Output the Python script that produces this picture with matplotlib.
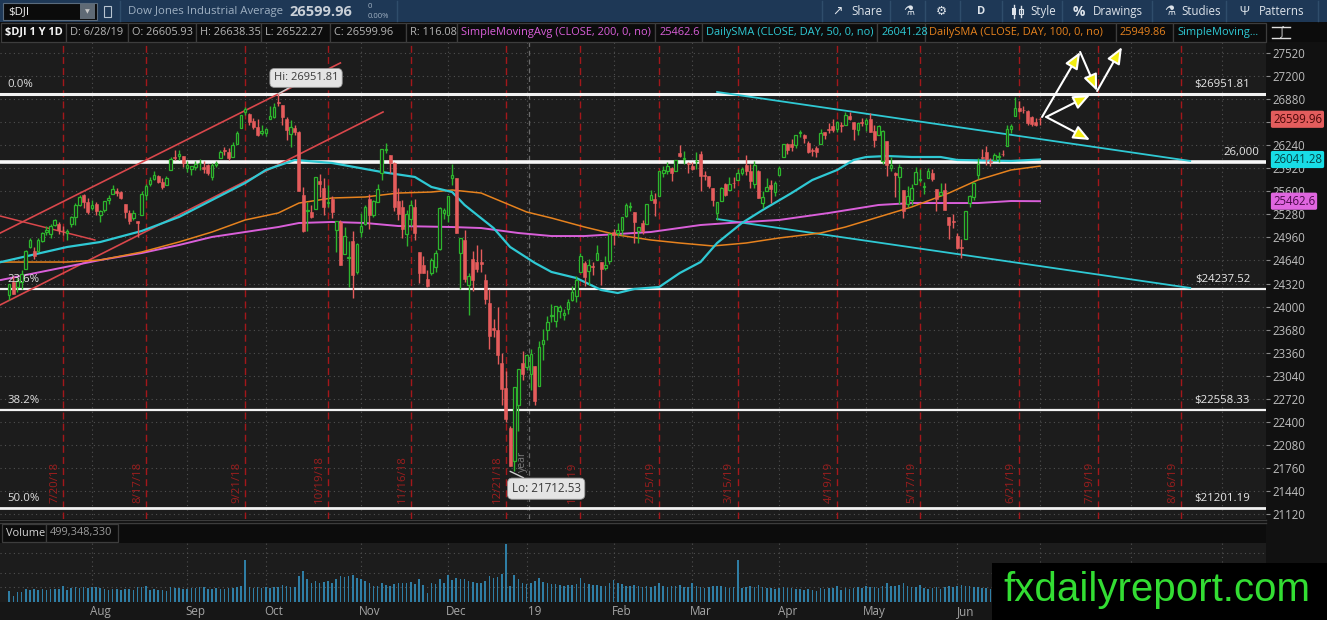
import numpy as np
import matplotlib
matplotlib.use("Agg")
import matplotlib.pyplot as plt
from matplotlib.patches import Rectangle
from matplotlib.lines import Line2D
import matplotlib.transforms as mtransforms

plt.rcParams['font.family'] = ['Open Sans', 'DejaVu Sans']

# ------------------------------------------------------------------ data
# daily candles, $DJI, 2018-07-02 .. 2019-06-28 (one row per month)
opens = [
    24161, 24343, 24273, 24347, 24527, 24829, 24766, 24772, 24915, 25034, 25006, 25131, 25152, 25063, 25025, 25144, 25240, 25412, 25546, 25453, 25363,
    25424, 25277, 25345, 25477, 25563, 25611, 25593, 25421, 25304, 25227, 25185, 25269, 25544, 25702, 25774, 25806, 25735, 25692, 25889, 26081, 26088, 26086, 25919,
    25916, 25935, 25988, 25935, 25969, 25798, 25970, 26066, 26179, 26140, 26075, 26259, 26472, 26702, 26679, 26579, 26490, 26408, 26405,
    26598, 26635, 26833, 26795, 26607, 26402, 26478, 26417, 25547, 25321, 25313, 25352, 25743, 25641, 25441, 25497, 25068, 25178, 24730, 24676, 24913, 24485, 25035,
    25152, 25491, 25268, 25450, 25851, 26176, 26104, 25988, 25461, 25388, 25003, 25210, 25383, 24753, 24577, 24383, 24461, 24556, 24805, 25297, 25270,
    25780, 25778, 24737, 24918, 24305, 24654, 24621, 24616, 24367, 24045, 23700, 23675, 23216, 22871, 22318, 21858, 22629, 23213, 23154,
    23058, 23177, 22894, 23474, 23680, 23867, 23796, 23940, 23886, 23961, 24091, 24141, 24480, 24598, 24493, 24561, 24653, 24613, 24529, 24627, 25030,
    25025, 25062, 25252, 25380, 25310, 25050, 25163, 25151, 25483, 25498, 25535, 25851, 25880, 25928, 25886, 26126, 26054, 25994, 25958,
    26019, 26123, 25825, 25811, 25645, 25297, 25471, 25707, 25620, 25714, 25751, 25852, 25961, 25876, 25705, 25882, 25443, 25608, 25682, 25592, 25823,
    26075, 26250, 26260, 26238, 26416, 26387, 26277, 26169, 26205, 26255, 26422, 26466, 26508, 26460, 26523, 26527, 26647, 26557, 26446, 26557, 26535,
    26609, 26432, 26386, 26022, 26295, 25920, 25853, 25804, 25612, 25430, 25481, 25703, 25762, 25653, 25779, 25849, 25630, 25554, 25616, 25237, 25188, 24985,
    24823, 24942, 25437, 25520, 25821, 26082, 26150, 26014, 26037, 26075, 26117, 26225, 26468, 26640, 26760, 26729, 26711, 26626, 26561, 26605.93,
]
highs = [
    24307, 24421, 24400, 24509, 24784, 24958, 24830, 24945, 25031, 25117, 25143, 25215, 25179, 25123, 25082, 25256, 25435, 25552, 25559, 25513, 25486,
    25456, 25347, 25471, 25545, 25692, 25646, 25606, 25421, 25340, 25337, 25185, 25603, 25706, 25793, 25888, 25823, 25790, 25806, 26074, 26168, 26168, 26096, 26025,
    25955, 26015, 26055, 26016, 25981, 25997, 26025, 26177, 26215, 26205, 26279, 26437, 26657, 26769, 26681, 26617, 26609, 26519, 26482,
    26784, 26828, 26951.81, 26795, 26633, 26584, 26519, 26431, 25662, 25458, 25414, 25802, 25836, 25786, 25682, 25538, 25191, 25203, 25101, 24904, 25051, 24882, 25300,
    25414, 25558, 25478, 25700, 26191, 26277, 26104, 26012, 25639, 25482, 25337, 25485, 25493, 24753, 24700, 24509, 24672, 24791, 25380, 25362, 25538,
    25980, 25778, 24951, 25056, 24469, 24769, 24858, 24797, 24456, 24242, 23832, 24000, 23356, 23110, 22339, 22879, 23139, 23381, 23333,
    23413, 23177, 23518, 23688, 23865, 24039, 24002, 24016, 23963, 24108, 24287, 24427, 24750, 24639, 24657, 24612, 24860, 24614, 24701, 25021, 25078,
    25160, 25240, 25439, 25446, 25310, 25106, 25200, 25429, 25624, 25580, 25885, 25948, 26000, 25936, 26040, 26242, 26156, 26012, 26003,
    26143, 26155, 25880, 25818, 25645, 25450, 25664, 25722, 25796, 25800, 25908, 25938, 26110, 25977, 26025, 25902, 25611, 25780, 25754, 25745, 25949,
    26259, 26269, 26325, 26386, 26450, 26400, 26301, 26200, 26223, 26462, 26422, 26545, 26599, 26573, 26560, 26696, 26695, 26557, 26544, 26622, 26615,
    26681, 26519, 26523, 26448, 26295, 26082, 25865, 25983, 25612, 25680, 25700, 25938, 25913, 25731, 25920, 25906, 25630, 25710, 25714, 25237, 25290, 25020,
    24938, 25333, 25550, 25727, 26057, 26190, 26233, 26067, 26137, 26141, 26178, 26516, 26530, 26907, 26854, 26785, 26726, 26652, 26619, 26638.35,
]
lows = [
    24084, 24172, 24200, 24247, 24527, 24808, 24660, 24760, 24890, 24997, 24946, 25121, 25012, 24994, 24930, 25104, 25135, 25397, 25371, 25285, 25344,
    25273, 25173, 25317, 25420, 25563, 25540, 25490, 25224, 25150, 25201, 24965, 25269, 25486, 25676, 25758, 25712, 25627, 25692, 25889, 26041, 26032, 25942, 25871,
    25820, 25894, 25889, 25851, 25820, 25750, 25939, 26066, 26099, 26039, 26073, 26259, 26472, 26664, 26518, 26469, 26373, 26382, 26364,
    26598, 26614, 26780, 26522, 26309, 26211, 26377, 25598, 25041, 25052, 25236, 25352, 25523, 25275, 25377, 25226, 24761, 24583, 24730, 24270, 24122, 24458, 24970,
    25135, 25070, 25240, 25446, 25754, 26137, 25857, 25330, 25205, 24951, 24845, 25116, 24924, 24332, 24460, 24268, 24440, 24480, 24787, 25215, 25168,
    25692, 25015, 24242, 24343, 23881, 24218, 24485, 24476, 24034, 23409, 23579, 23203, 22640, 22397, 21792, 21712.53, 22268, 22982, 23119,
    22839, 22638, 22894, 23254, 23529, 23789, 23712, 23837, 23810, 23890, 24071, 24065, 24480, 24287, 24300, 24435, 24653, 24300, 24502, 24592, 24850,
    24986, 25000, 25244, 25333, 24884, 24883, 25004, 25151, 25483, 25263, 25535, 25803, 25845, 25747, 25886, 26077, 25985, 25851, 25901,
    25914, 25611, 25760, 25652, 25390, 25208, 25470, 25537, 25620, 25649, 25751, 25822, 25826, 25642, 25642, 25501, 25372, 25608, 25438, 25534, 25823,
    26075, 26121, 26163, 26200, 26354, 26273, 26129, 26094, 26083, 26255, 26324, 26406, 26418, 26426, 26428, 26527, 26588, 26318, 26379, 26509, 26434,
    26425, 26220, 26386, 25974, 25810, 25888, 25517, 25427, 25223, 25387, 25409, 25703, 25731, 25569, 25779, 25745, 25328, 25554, 25344, 24938, 25095, 24800,
    24680, 24942, 25384, 25480, 25770, 26052, 25966, 25957, 26029, 26005, 26084, 26225, 26410, 26640, 26707, 26691, 26521, 26511, 26511, 26522.27,
]
closes = [
    24307, 24175, 24357, 24456, 24776, 24920, 24700, 24925, 25019, 25064, 25120, 25199, 25064, 25058, 25044, 25241, 25414, 25527, 25451, 25307, 25415,
    25333, 25327, 25463, 25502, 25629, 25583, 25509, 25313, 25187, 25299, 25162, 25558, 25669, 25758, 25822, 25733, 25656, 25790, 26049, 26064, 26124, 25986, 25964,
    25952, 25974, 25995, 25916, 25857, 25971, 25998, 26145, 26154, 26062, 26246, 26405, 26657, 26743, 26562, 26492, 26385, 26439, 26458,
    26651, 26774, 26828, 26627, 26447, 26486, 26430, 25599, 25053, 25340, 25250, 25798, 25706, 25380, 25444, 25317, 25191, 24583, 24985, 24688, 24443, 24874, 25116,
    25380, 25271, 25462, 25635, 26181, 26191, 25989, 25387, 25287, 25081, 25289, 25413, 25018, 24465, 24464, 24286, 24640, 24749, 25366, 25339, 25538,
    25826, 25027, 24947, 24389, 24423, 24370, 24527, 24597, 24101, 23592, 23675, 23324, 22859, 22445, 21792, 22878, 23138, 23062, 23327,
    23346, 22686, 23433, 23531, 23787, 23879, 24001, 23996, 23909, 24065, 24207, 24370, 24706, 24404, 24575, 24553, 24737, 24528, 24579, 25014, 24999,
    25064, 25239, 25411, 25390, 25169, 25106, 25053, 25425, 25543, 25439, 25883, 25891, 25954, 25850, 26031, 26091, 26057, 25985, 25916,
    26026, 25819, 25806, 25673, 25473, 25450, 25650, 25554, 25702, 25709, 25849, 25914, 25887, 25745, 25962, 25502, 25516, 25658, 25626, 25717, 25929,
    26258, 26180, 26219, 26385, 26425, 26341, 26151, 26157, 26143, 26412, 26385, 26453, 26450, 26559, 26511, 26656, 26597, 26462, 26543, 26554, 26593,
    26430, 26307, 26505, 26438, 25965, 25968, 25828, 25942, 25324, 25532, 25648, 25863, 25764, 25679, 25877, 25776, 25490, 25586, 25347, 25126, 25169, 24815,
    24819, 25332, 25540, 25720, 25984, 26062, 26048, 26004, 26107, 26090, 26112, 26465, 26504, 26753, 26719, 26727, 26548, 26536, 26526, 26599.96,
]
volumes_m = [
    230, 120, 200, 210, 260, 250, 260, 250, 260, 240, 270, 260, 270, 330, 240, 280, 300, 290, 300, 290, 310,
    300, 290, 260, 250, 270, 260, 240, 270, 260, 250, 310, 300, 330, 250, 260, 250, 240, 230, 300, 290, 280, 270, 260,
    280, 290, 300, 300, 260, 270, 280, 260, 270, 280, 290, 300, 330, 850, 300, 280, 300, 290, 300,
    280, 300, 310, 340, 320, 300, 310, 520, 640, 470, 380, 420, 380, 400, 420, 380, 470, 520, 500, 520, 540, 480, 460,
    420, 390, 330, 320, 380, 340, 330, 360, 380, 380, 390, 400, 360, 470, 340, 180, 380, 370, 460, 380, 540,
    440, 480, 470, 460, 420, 410, 390, 380, 420, 520, 480, 500, 560, 1180, 330, 540, 470, 390, 360,
    380, 420, 480, 410, 380, 370, 360, 340, 330, 340, 350, 370, 480, 380, 360, 350, 340, 330, 320, 390, 440,
    380, 360, 330, 320, 350, 330, 300, 320, 310, 330, 390, 330, 310, 320, 330, 350, 310, 300, 380,
    330, 310, 290, 300, 320, 330, 320, 300, 290, 300, 850, 290, 310, 320, 300, 340, 300, 290, 280, 270, 290,
    310, 290, 280, 270, 260, 250, 260, 240, 230, 280, 260, 280, 290, 330, 240, 280, 270, 290, 300, 280, 320,
    310, 300, 290, 330, 380, 320, 330, 340, 390, 320, 310, 300, 350, 280, 270, 280, 300, 270, 300, 320, 300, 330,
    340, 330, 320, 310, 300, 280, 290, 270, 260, 280, 270, 300, 290, 330, 600, 280, 300, 290, 300, 499.35,
]

# moving averages (trading-day index, value)
sma50_idx = [-2, 14, 22, 32, 41, 49, 57, 62, 69, 78, 90, 98, 102, 107, 110, 117, 121, 127, 131, 137,
             143, 147, 151, 157, 162, 167, 171, 177, 182, 189, 194, 200, 204, 207, 212, 218, 225, 229, 242, 249]
sma50_val = [24618, 24827, 24896, 25049, 25243, 25479, 25715, 25896, 26035, 25993, 25868, 25799, 25660, 25590, 25410, 25090, 24827, 24605, 24480, 24396,
             24230, 24188, 24244, 24271, 24466, 24618, 24882, 25160, 25340, 25576, 25757, 25896, 26035, 26076, 26090, 26076, 26076, 26035, 26021, 26041.28]
sma100_idx = [-2, 14, 22, 32, 41, 49, 57, 65, 70, 78, 86, 94, 102, 107, 114, 125, 131, 139, 147, 155,
              162, 170, 178, 186, 196, 202, 210, 218, 227, 234, 242, 249]
sma100_val = [24618, 24618, 24646, 24757, 24896, 25035, 25202, 25299, 25437, 25507, 25521, 25576, 25590, 25618, 25576, 25313, 25229, 25104, 24993, 24924,
              24882, 24841, 24882, 24952, 25021, 25104, 25243, 25382, 25576, 25757, 25896, 25949.86]
sma200_idx = [-2, 22, 32, 41, 49, 57, 65, 70, 78, 86, 94, 107, 114, 123, 131, 139, 147, 155, 167, 174,
              186, 198, 210, 218, 227, 234, 242, 249]
sma200_val = [24369, 24646, 24743, 24854, 24966, 25035, 25104, 25160, 25174, 25160, 25118, 25104, 25090, 25021, 24979, 24979, 25007, 25035, 25132, 25160,
              25202, 25299, 25410, 25437, 25437, 25437, 25465, 25462.6]

# drawings
red_upper_idx, red_upper_val = [-2.2, 80.0], [25020, 27382]
red_lower_idx, red_lower_val = [-2.2, 90.3], [24022, 26701]
red_short_idx, red_short_val = [-2.2, 20.7], [25257, 24924]
cyan_upper_idx, cyan_upper_val = [171, 285.3], [26979, 26021]
cyan_lower_idx, cyan_lower_val = [171, 285.3], [25215, 24258]
fib_levels = [26951.81, 24237.52, 22558.33, 21201.19]
fib_pcts = ['0.0%', '23.6%', '38.2%', '50.0%']
fib_right = ['$26951.81', '$24237.52', '$22558.33', '$21201.19']
level_26000 = 26000
hi_idx, hi_val = 65, 26951.81
lo_idx, lo_val = 121, 21712.53
# projection arrows (start, end) in (index, price)
arrow_segments = [
    ((249.5, 26632), (258.7, 27534)),
    ((258.7, 27534), (262.8, 26992)),
    ((262.8, 26992), (268.8, 27603)),
    ((250.5, 26632), (261.1, 26937)),
    ((250.5, 26632), (261.1, 26312)),
]
expiry_idx = [13, 33, 57, 77, 97, 120, 138, 157, 176, 200, 220, 244, 263, 283]
expiry_labels = ['7/20/18', '8/17/18', '9/21/18', '10/19/18', '11/16/18', '12/21/18', '1/18/19',
                 '2/15/19', '3/15/19', '4/19/19', '5/17/19', '6/21/19', '7/19/19', '8/16/19']
month_first_idx = [21, 44, 63, 86, 107, 126, 147, 166, 187, 208, 230, 250, 272, 294]
month_names = ['Aug', 'Sep', 'Oct', 'Nov', 'Dec', '19', 'Feb', 'Mar', 'Apr', 'May', 'Jun']  # later ones sit under the watermark
year_idx = 125.5
price_ticks = list(range(21120, 27521, 320))
last_close, sma50_last, sma100_last, sma200_last = 26599.96, 26041.28, 25949.86, 25462.6

# ------------------------------------------------------------------ style
BG = '#1c1c1c'
GREEN = '#2db52d'
RED = '#e55c5c'
CYAN = '#2fc9d4'
ORANGE = '#e6821e'
MAGENTA = '#d95fd9'
GRID = '#505050'

W, H = 1327, 620
fig = plt.figure(figsize=(W / 100, H / 100), dpi=100)
fig.patch.set_facecolor('#121212')


def frect(x0, y0, x1, y1, **kw):
    r = Rectangle((x0 / W, 1 - y1 / H), (x1 - x0) / W, (y1 - y0) / H, transform=fig.transFigure, **kw)
    fig.patches.append(r)
    return r


def ftext(x, y, s, **kw):
    kw.setdefault('va', 'center')
    return fig.text(x / W, 1 - y / H, s, **kw)


def fline(x0, y0, x1, y1, **kw):
    fig.lines.append(Line2D([x0 / W, x1 / W], [1 - y0 / H, 1 - y1 / H], transform=fig.transFigure, **kw))


# ------------------------------------------------------------------ header bar
frect(0, 0, W, 22, facecolor='#1e3856', edgecolor='none', zorder=-2)
frect(3, 3, 97, 20, facecolor='#0b0b0b', edgecolor='#5a6b7c', lw=0.8, zorder=1)
frect(80, 4, 95, 19, facecolor='#5f6a75', edgecolor='none', zorder=2)
ftext(87.5, 11.5, '▼', color='#c8c8c8', fontsize=4.5, ha='center', zorder=3)
ftext(8, 11.5, '$DJI', color='#f0f0f0', fontsize=8.2, zorder=3)
frect(104, 6, 111, 17, facecolor='none', edgecolor='#b8c4d0', lw=0.8, zorder=2)
fline(120, 1, 120, 21, color='#2f4d6b', lw=1)
ftext(128, 11.5, 'Dow Jones Industrial Average', color='#9fb0c2', fontsize=8.2)
ftext(289, 11.5, '26599.96', color='#c9d0d8', fontsize=10.5, fontweight='bold')
ftext(368, 6.5, '0', color='#9fb0c2', fontsize=5.5)
ftext(368, 16, '0.00%', color='#9fb0c2', fontsize=5.5)
fline(397, 1, 397, 21, color='#2f4d6b', lw=1)
for sx in [822, 890, 925, 960, 1002, 1062, 1152, 1226, 1318]:
    fline(sx, 1, sx, 21, color='#2f4d6b', lw=1)
hdr = dict(color='#dde3ea', fontsize=8.3)
ftext(832, 11.5, '↗', color='#dde3ea', fontsize=9)
ftext(851, 11.5, 'Share', **hdr)
ftext(903, 11.5, '⚗', color='#dde3ea', fontsize=9)
ftext(936, 11.5, '⚙', color='#dde3ea', fontsize=9)
ftext(977, 11.5, 'D', color='#dde3ea', fontsize=8, fontweight='bold')
# small candlestick icon before "Style"
fline(1014, 5, 1014, 18, color='#dde3ea', lw=1)
frect(1012, 8, 1016, 15, facecolor='#dde3ea', edgecolor='none', zorder=2)
fline(1021, 6, 1021, 17, color='#dde3ea', lw=1)
frect(1019, 9, 1023, 14, facecolor='none', edgecolor='#dde3ea', lw=0.8, zorder=2)
ftext(1030, 11.5, 'Style', **hdr)
ftext(1073, 11.5, '%', color='#dde3ea', fontsize=10, fontweight='bold')
ftext(1093, 11.5, 'Drawings', **hdr)
ftext(1164, 11.5, '⚗', color='#dde3ea', fontsize=9)
ftext(1181, 11.5, 'Studies', **hdr)
ftext(1239, 11.5, 'Ψ', color='#dde3ea', fontsize=9)
ftext(1259, 11.5, 'Patterns', **hdr)

# ------------------------------------------------------------------ info bar
frect(0, 22, W, 42, facecolor='#0c0c0c', edgecolor='none', zorder=-2)
info_items = [
    (1, 66, '$DJI 1 Y 1D', '#f2f2f2', 'bold'),
    (66, 128, 'D: 6/28/19', '#b5b5b5', 'normal'),
    (128, 196, 'O: 26605.93', '#b5b5b5', 'normal'),
    (196, 261, 'H: 26638.35', '#b5b5b5', 'normal'),
    (261, 330, 'L: 26522.27', '#b5b5b5', 'normal'),
    (330, 406, 'C: 26599.96', '#b5b5b5', 'normal'),
    (406, 457, 'R: 116.08', '#b5b5b5', 'normal'),
    (457, 655, 'SimpleMovingAvg (CLOSE, 200, 0, no)', MAGENTA, 'normal'),
    (655, 702, '25462.6', MAGENTA, 'normal'),
    (702, 877, 'DailySMA (CLOSE, DAY, 50, 0, no)', CYAN, 'normal'),
    (877, 925, '26041.28', CYAN, 'normal'),
    (925, 1116, 'DailySMA (CLOSE, DAY, 100, 0, no)', ORANGE, 'normal'),
    (1116, 1173, '25949.86', ORANGE, 'normal'),
    (1173, 1266, 'SimpleMoving...', CYAN, 'normal'),
]
for x0, x1, s, c, wgt in info_items:
    frect(x0, 23, x1, 41.5, facecolor='#0c0c0c', edgecolor='#3d3d3d', lw=0.9, zorder=1)
    ftext(x0 + 4, 32.5, s, color=c, fontsize=7.9, fontweight=wgt, zorder=3)
fline(1272, 27, 1290, 27, color='#e0e0e0', lw=1)
fline(1272, 38, 1290, 38, color='#e0e0e0', lw=1)
ftext(1281, 32.5, '∫', color='#e0e0e0', fontsize=8, ha='center')

# ------------------------------------------------------------------ backgrounds
frect(1266, 42, W, 620, facecolor='#111111', edgecolor='none', zorder=-2)
frect(0, 519, 1266, 543, facecolor='#0c0c0c', edgecolor='none', zorder=-2)
frect(0, 602, 1266, 620, facecolor='#161616', edgecolor='none', zorder=-2)
fline(0, 519.5, 1266, 519.5, color='#3c3c3c', lw=1)
fline(0, 522.5, 1266, 522.5, color='#3c3c3c', lw=1)
frect(2, 524, 46, 542, facecolor='#0c0c0c', edgecolor='#3d3d3d', lw=0.9, zorder=1)
frect(46, 524, 118, 542, facecolor='#0c0c0c', edgecolor='#3d3d3d', lw=0.9, zorder=1)
ftext(6, 533, 'Volume', color='#d5d5d5', fontsize=7.9, zorder=3)
ftext(50, 533, '499,348,330', color='#9a9a9a', fontsize=7.9, zorder=3)

# ------------------------------------------------------------------ price axes
XMIN, XMAX = -2.22, 303.6
ax = fig.add_axes([0, 1 - 519 / H, 1266 / W, (519 - 42) / H])
ax.set_facecolor(BG)
ax.set_xlim(XMIN, XMAX)
ax.set_ylim(21050.6, 27672.7)
for sp in ax.spines.values():
    sp.set_visible(False)
ax.set_xticks([])
ax.yaxis.tick_right()
ax.set_yticks(price_ticks)
ax.set_yticklabels([str(t) for t in price_ticks])
ax.tick_params(axis='y', length=3, width=0.8, color='#8a8a8a', labelcolor='#bdbdbd',
               labelsize=8.3, pad=1.5)
for t in price_ticks:
    ax.axhline(t, color=GRID, lw=0.8, ls=(0, (1, 3)), zorder=0.5)
for m in month_first_idx:
    ax.axvline(m - 1, color=GRID, lw=0.8, ls=(0, (1, 3)), zorder=0.5)

blend = mtransforms.blended_transform_factory(ax.transData, ax.transAxes)
for e, lab in zip(expiry_idx, expiry_labels):
    ax.axvline(e, color='#a3171b', lw=1.0, ls=(0, (5, 3)), zorder=0.7)
    ax.text(e - 2.0, 0.034, lab, rotation=90, ha='center', va='bottom', color='#9c1e1e',
            fontsize=8.2, transform=blend, zorder=0.8)
ax.axvline(year_idx, color='#6a6a6a', lw=0.9, ls=(0, (4, 3)), zorder=0.7)
ax.text(year_idx - 1.4, 0.098, 'year', rotation=90, ha='center', va='bottom', color='#7a7a7a',
        fontsize=7.6, transform=blend, zorder=0.8)

# horizontal levels
fib_lw = [2.2, 1.6, 1.6, 2.0]
for lvl, pct, rlab, lw in zip(fib_levels, fib_pcts, fib_right, fib_lw):
    ax.axhline(lvl, color='#f2f2f2', lw=lw, zorder=2)
    ax.annotate(pct, xy=(0.006, lvl), xycoords=('axes fraction', 'data'), xytext=(0, 3),
                textcoords='offset points', ha='left', va='bottom', color='#e0e0e0', fontsize=8.2, zorder=6)
    ax.annotate(rlab, xy=(1, lvl), xycoords=('axes fraction', 'data'), xytext=(-11.5, 3),
                textcoords='offset points', ha='right', va='bottom', color='#e8e8e8', fontsize=8.2, zorder=6)
ax.axhline(level_26000, color='#f7f7f7', lw=2.6, zorder=2)
ax.annotate('26,000', xy=(1, level_26000), xycoords=('axes fraction', 'data'), xytext=(-5, 3),
            textcoords='offset points', ha='right', va='bottom', color='#e8e8e8', fontsize=8.2, zorder=6)

# trend lines
ax.plot(red_upper_idx, red_upper_val, color='#d9474b', lw=1.2, zorder=2.2)
ax.plot(red_lower_idx, red_lower_val, color='#d9474b', lw=1.2, zorder=2.2)
ax.plot(red_short_idx, red_short_val, color='#d9474b', lw=1.1, zorder=2.2)
ax.plot(cyan_upper_idx, cyan_upper_val, color=CYAN, lw=1.3, zorder=2.2)
ax.plot(cyan_lower_idx, cyan_lower_val, color=CYAN, lw=1.3, zorder=2.2)

# moving averages
ax.plot(sma200_idx, sma200_val, color=MAGENTA, lw=1.4, zorder=2.5)
ax.plot(sma100_idx, sma100_val, color=ORANGE, lw=1.1, zorder=2.5)
ax.plot(sma50_idx, sma50_val, color=CYAN, lw=1.6, zorder=2.6)

# candles
o = np.asarray(opens, float)
h = np.asarray(highs, float)
l = np.asarray(lows, float)
c = np.asarray(closes, float)
x = np.arange(len(c))
up = c >= o
ax.vlines(x[up], l[up], h[up], color=GREEN, lw=1.0, zorder=3)
ax.vlines(x[~up], l[~up], h[~up], color=RED, lw=1.0, zorder=3)
ax.bar(x[up], np.maximum(c[up] - o[up], 8), bottom=o[up], width=0.62, facecolor=BG,
       edgecolor=GREEN, lw=0.9, zorder=4)
ax.bar(x[~up], np.maximum(o[~up] - c[~up], 8), bottom=c[~up], width=0.72, facecolor=RED,
       edgecolor=RED, lw=0.4, zorder=4)

# hi / lo bubbles
bub = dict(boxstyle='round,pad=0.35,rounding_size=0.4', fc='#e4e4e4', ec='#9a9a9a', lw=0.6)
ax.annotate(f'Hi: {hi_val:.2f}', xy=(hi_idx, hi_val), xytext=(20, 11.5), textcoords='offset points',
            ha='center', va='center', fontsize=8, color='#3a3a3a', bbox=bub, zorder=8,
            arrowprops=dict(arrowstyle='-', color='#d0d0d0', lw=1.0, shrinkA=0, shrinkB=0))
ax.annotate(f'Lo: {lo_val:.2f}', xy=(lo_idx, lo_val), xytext=(26, -12.5), textcoords='offset points',
            ha='center', va='center', fontsize=8.4, color='#3a3a3a', bbox=bub, zorder=8,
            arrowprops=dict(arrowstyle='-', color='#d0d0d0', lw=1.0, shrinkA=0, shrinkB=0))

# projection arrows
for (x0, y0), (x1, y1) in arrow_segments:
    ax.annotate('', xy=(x1, y1), xytext=(x0, y0), zorder=9, annotation_clip=False,
                arrowprops=dict(arrowstyle='-|>,head_length=1.0,head_width=0.42', mutation_scale=10,
                                facecolor='#f3ee12', edgecolor='white', lw=1.5, shrinkA=0, shrinkB=0))

# value labels on the price scale
for val, fc, tc, txt in [(last_close, '#e35d5d', '#4a0808', '26599.96'),
                         (sma50_last, '#18dde6', '#034447', '26041.28'),
                         (sma200_last, '#e066e0', '#4a0a4a', '25462.6')]:
    ax.annotate(txt, xy=(1, val), xycoords=('axes fraction', 'data'), xytext=(5, 0),
                textcoords='offset points', ha='left', va='center', fontsize=8.3, color=tc,
                bbox=dict(boxstyle='round,pad=0.18,rounding_size=0.15', fc=fc, ec='none'),
                annotation_clip=False, zorder=10)

# ------------------------------------------------------------------ volume axes
axv = fig.add_axes([0, 1 - 602 / H, 1266 / W, 59 / H])
axv.set_facecolor(BG)
axv.set_xlim(XMIN, XMAX)
axv.set_ylim(0, 1200)
for sp in axv.spines.values():
    sp.set_visible(False)
axv.set_yticks([])
for gv in [300, 600, 1000]:
    axv.axhline(gv, color=GRID, lw=0.8, ls=(0, (1, 3)), zorder=0.5)
for m in month_first_idx:
    axv.axvline(m - 1, color=GRID, lw=0.8, ls=(0, (1, 3)), zorder=0.5)
axv.bar(x, volumes_m, width=0.38, color='#2f7ea5', zorder=2)
axv.set_xticks([m + 1 for m in month_first_idx[:len(month_names)]])
axv.set_xticklabels(month_names)
axv.tick_params(axis='x', length=0, pad=2.5, labelcolor='#a5a5a5', labelsize=8.4)

# ------------------------------------------------------------------ watermark
frect(992, 563, W, H, facecolor='#000000', edgecolor='none', zorder=20)
ftext(1157, 590, 'fxdailyreport.com', color='#33dd33', fontsize=29, ha='center',
      family=['Liberation Sans', 'DejaVu Sans'], zorder=21)

fig.savefig('out.png', dpi=100, facecolor=fig.get_facecolor())
